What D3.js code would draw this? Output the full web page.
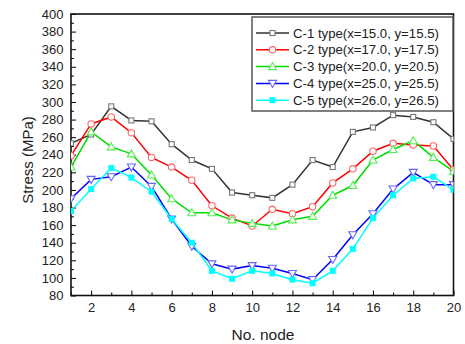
<!DOCTYPE html>
<html><head><meta charset="utf-8">
<script src="https://cdn.jsdelivr.net/npm/d3@7"></script>
<style>body{margin:0;background:#fff}svg{display:block}text{font-family:"Liberation Sans",Arial,sans-serif}</style>
</head><body>
<svg id="c" width="465" height="344"></svg>
<script>
const nodes = d3.range(1, 21);
const seriesNames = ["C-1 type(x=15.0, y=15.5)","C-2 type(x=17.0, y=17.5)","C-3 type(x=20.0, y=20.5)","C-4 type(x=25.0, y=25.5)","C-5 type(x=26.0, y=26.5)"];
const c1 = [253,263,295,279,278,252,234,224,197,194,191,206,234,226,266,271,285,283,277,258];
const c2 = [239,275,283,265,237,226,211,182,168,159,178,173,181,208,224,244,253,251,250,223];
const c3 = [226,266,249,241,217,190,174,174,166,162,159,166,170,194,205,234,246,256,237,221];
const c4 = [190,212,215,226,204,167,136,116,110,114,111,105,98,121,149,173,201,220,206,206];
const c5 = [176,201,225,214,198,167,140,108,99,108,105,98,94,108,133,168,194,213,215,200];
const xTicks = [2,4,6,8,10,12,14,16,18,20];
const yTicks = d3.range(80, 401, 20);
const colors = ["#333333","#ff0000","#00dd00","#0000ff","#00ffff"];
const markerColors = ["#777777","#ff6666","#55ee55","#6666ff","#00ffff"];
const markerTypes = ["square","circle","triangle","triangleDown","squareFilled"];
const allSeries = [c1,c2,c3,c4,c5];

const svg = d3.select("#c");
const L = 71, R = 453.5, T = 14, B = 295.5;
const x = d3.scaleLinear().domain([1,20]).range([L,R]);
const y = d3.scaleLinear().domain([80,400]).range([B,T]);
const FONT = '"Liberation Sans",Arial,sans-serif';

svg.append("defs").append("clipPath").attr("id","clip")
  .append("rect").attr("x",L).attr("y",T).attr("width",R-L).attr("height",B-T);

// axes with inward ticks
const gx = svg.append("g").attr("transform",`translate(0,${B})`)
  .call(d3.axisBottom(x).tickValues(d3.range(1,21)).tickSize(-4).tickFormat(""));
gx.selectAll(".tick line").attr("y2", d => d%2===0 ? -5 : -3).attr("stroke","#000");
gx.select(".domain").remove();
svg.append("g").attr("transform",`translate(0,${B})`)
  .call(d3.axisBottom(x).tickValues(xTicks).tickSize(0).tickPadding(7))
  .call(g=>g.select(".domain").remove())
  .selectAll("text").attr("font-size","13px").attr("fill","#222").style("font-family",FONT);

const gy = svg.append("g").attr("transform",`translate(${L},0)`)
  .call(d3.axisLeft(y).tickValues(d3.range(80,401,10)).tickSize(-4).tickFormat(""));
gy.selectAll(".tick line").attr("x2", d => d%20===0 ? 5 : 3).attr("stroke","#000");
gy.select(".domain").remove();
svg.append("g").attr("transform",`translate(${L},0)`)
  .call(d3.axisLeft(y).tickValues(yTicks).tickSize(0).tickPadding(7.5))
  .call(g=>g.select(".domain").remove())
  .selectAll("text").attr("font-size","13px").attr("fill","#222").style("font-family",FONT);

// frame
svg.append("rect").attr("x",L).attr("y",T).attr("width",R-L).attr("height",B-T)
  .attr("fill","none").attr("stroke","#111").attr("stroke-width",1.6);

// titles
svg.append("text").attr("x",263).attr("y",339.5).attr("text-anchor","middle")
  .attr("font-size","15.5px").attr("fill","#222").text("No. node");
svg.append("text").attr("transform","translate(33,160) rotate(-90)").attr("text-anchor","middle")
  .attr("font-size","15px").attr("fill","#222").text("Stress (MPa)");

function drawMarker(g, type, cx, cy, col) {
  if (type==="square") g.append("rect").attr("x",cx-2.5).attr("y",cy-2.5).attr("width",5).attr("height",5).attr("fill","#fff").attr("stroke",col).attr("stroke-width",1.1);
  else if (type==="circle") g.append("circle").attr("cx",cx).attr("cy",cy).attr("r",3.2).attr("fill","#fff").attr("stroke",col).attr("stroke-width",1.1);
  else if (type==="triangle") g.append("path").attr("d",`M${cx},${cy-4}L${cx+4},${cy+3}L${cx-4},${cy+3}Z`).attr("fill","#fff").attr("stroke",col).attr("stroke-width",1.1);
  else if (type==="triangleDown") g.append("path").attr("d",`M${cx},${cy+4}L${cx+4},${cy-3}L${cx-4},${cy-3}Z`).attr("fill","#fff").attr("stroke",col).attr("stroke-width",1.1);
  else if (type==="squareFilled") g.append("rect").attr("x",cx-3).attr("y",cy-3).attr("width",6).attr("height",6).attr("fill",col).attr("stroke","none");
}

const plot = svg.append("g").attr("clip-path","url(#clip)");
const line = d3.line().x((d,i)=>x(nodes[i])).y(d=>y(d));
allSeries.forEach((s,k)=>{
  plot.append("path").datum(s).attr("d",line).attr("fill","none").attr("stroke",colors[k]).attr("stroke-width",1.5);
});
allSeries.forEach((s,k)=>{
  const g = plot.append("g");
  s.forEach((v,i)=>drawMarker(g, markerTypes[k], x(nodes[i]), y(v), markerColors[k]));
});

// legend
const lg = svg.append("g");
lg.append("rect").attr("x",252).attr("y",17).attr("width",201).attr("height",94)
  .attr("fill","#fff").attr("stroke","#555").attr("stroke-width",1.5);
seriesNames.forEach((n,k)=>{
  const yy = 33 + k*16.8;
  lg.append("line").attr("x1",256).attr("x2",289).attr("y1",yy).attr("y2",yy).attr("stroke",colors[k]).attr("stroke-width",1.5);
  drawMarker(lg, markerTypes[k], 272.5, yy, markerColors[k]);
  lg.append("text").attr("x",293).attr("y",yy+4.5).attr("font-size","13.2px").attr("fill","#222").text(n);
});
</script>
</body></html>
